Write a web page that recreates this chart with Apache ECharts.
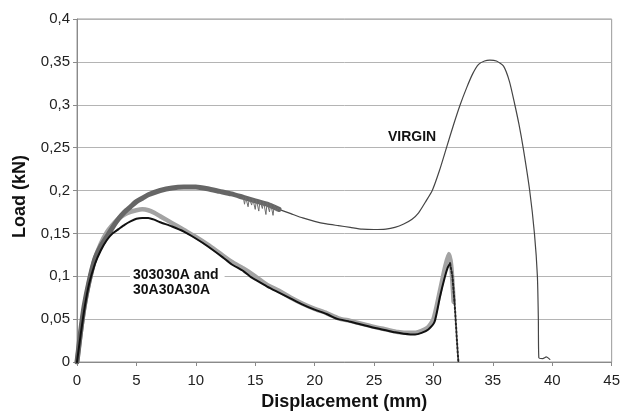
<!DOCTYPE html>
<html>
<head>
<meta charset="utf-8">
<script src="https://cdn.jsdelivr.net/npm/echarts@6/dist/echarts.min.js"></script>
<style>html,body{margin:0;padding:0;background:#fff}#c{width:623px;height:416px}</style>
</head>
<body>
<div id="c"></div>
<script>
// Displacement (mm) / Load (kN) pairs
var xTicks = [0, 5, 10, 15, 20, 25, 30, 35, 40, 45];
var yTicks = [0, 0.05, 0.1, 0.15, 0.2, 0.25, 0.3, 0.35, 0.4];

// VIRGIN: noisy early band (0-17 mm)
var virginBand = [
  [0,0],[0.3,0.035],[0.6,0.065],[1,0.093],[1.5,0.12],[2,0.135],[2.5,0.146],[3,0.157],
  [3.5,0.167],[4,0.175],[4.5,0.181],[5,0.187],[5.5,0.191],[6,0.195],[7,0.2],[8,0.203],
  [9,0.204],[10,0.204],[11,0.202],[12,0.199],[13,0.196],[14,0.192],[15,0.188],
  [16,0.184],[17,0.178]
];
// VIRGIN: thin spikes in the 14-17 mm region
var virginSpikes = [
  [14.0,0.192],[14.1,0.184],[14.2,0.192],[14.4,0.181],[14.5,0.191],[14.7,0.183],
  [14.8,0.19],[15.0,0.178],[15.1,0.189],[15.3,0.176],[15.4,0.188],[15.6,0.179],
  [15.7,0.187],[15.9,0.172],[16.0,0.186],[16.2,0.175],[16.3,0.185],[16.5,0.171],
  [16.6,0.183],[16.8,0.176],[16.9,0.18],[17.1,0.177]
];
// VIRGIN: smooth part (17 mm to failure)
var virginLine = [
  [17,0.178],[18,0.173],[19,0.168],[20,0.164],[21,0.161],[22,0.159],[23,0.157],
  [24,0.155],[25,0.1545],[26,0.155],[26.75,0.157],[27.5,0.161],[28.2,0.1665],
  [28.75,0.174],[29.3,0.186],[29.9,0.2],[30.5,0.223],[31.1,0.25],[31.7,0.277],
  [32.25,0.3],[32.8,0.32],[33.3,0.336],[33.8,0.347],[34.3,0.351],[34.75,0.352],
  [35.3,0.351],[35.9,0.345],[36.4,0.327],[36.85,0.3],[37.2,0.277],[37.55,0.25],
  [38.1,0.2],[38.5,0.15],[38.75,0.1],[38.83,0.05],[38.87,0.005],[39.2,0.004],
  [39.5,0.006],[39.8,0.003]
];
// 303030A (light grey, noisy)
var s303030A = [
  [0,0],[0.3,0.033],[0.6,0.062],[1,0.092],[1.5,0.12],[2,0.138],[2.5,0.151],[3,0.16],
  [3.5,0.167],[4,0.172],[4.5,0.175],[5,0.177],[5.5,0.178],[6,0.177],[6.5,0.174],
  [7,0.17],[7.5,0.166],[8,0.162],[9,0.154],[10,0.146],[11,0.137],[12,0.127],
  [13,0.117],[14,0.109],[15,0.1],[16,0.09],[17,0.083],[18,0.075],[19,0.068],
  [20,0.062],[21,0.057],[22,0.051],[23,0.048],[24,0.0445],[25,0.041],[26,0.038],
  [27,0.035],[28,0.034],[28.5,0.034],[29.5,0.04],[30,0.05],[30.5,0.08],[31,0.112],
  [31.3,0.126],[31.5,0.112],[31.7,0.07]
];
// 30A30A30A (black)
var s30A30A30A = [
  [0,0],[0.3,0.031],[0.6,0.06],[1,0.09],[1.5,0.114],[2,0.13],[2.5,0.142],[3,0.15],
  [3.5,0.155],[4,0.16],[4.5,0.164],[5,0.167],[5.5,0.168],[6,0.168],[6.5,0.166],
  [7,0.163],[8,0.158],[9,0.152],[10,0.144],[11,0.135],[12.27,0.122],
  [13,0.114],[14,0.106],[14.64,0.099],[15,0.096],[16,0.088],[17,0.081],[18,0.074],
  [19,0.067],[20,0.061],[21,0.056],[21.76,0.051],[22,0.05],[23,0.047],[24,0.0435],
  [25,0.04],[26,0.037],[26.77,0.0346],[27.5,0.033],[28.45,0.032],[29,0.034],
  [29.57,0.038],[30.1,0.047],[30.55,0.076],[30.96,0.099],[31.2,0.11],[31.4,0.115]
];
// final dotted drop
var s30A30A30ADrop = [[31.4,0.115],[31.6,0.1],[31.8,0.065],[32.0,0.02],[32.1,0.0]];

var FONT = 'Liberation Sans, Arial, sans-serif';
var chart = echarts.init(document.getElementById('c'), null, {renderer: 'canvas'});
function line(name, data, color, width, type, z, smooth) {
  return {
    name: name, type: 'line', data: data, showSymbol: false, symbol: 'none',
    smooth: smooth === undefined ? 0.2 : smooth, z: z, animation: false,
    lineStyle: {color: color, width: width, type: type || 'solid', join: 'round', cap: 'round'}
  };
}
chart.setOption({
  animation: false,
  backgroundColor: '#fff',
  grid: {left: 77, right: 9, top: 19, bottom: 50, show: true, borderColor: '#9a9a9a', borderWidth: 1},
  xAxis: {
    type: 'value', min: 0, max: 45, interval: 5,
    name: 'Displacement (mm)', nameLocation: 'middle', nameGap: 31,
    nameTextStyle: {fontFamily: FONT, fontSize: 18, fontWeight: 'bold', color: '#111'},
    axisLine: {show: true, lineStyle: {color: '#8a8a8a', width: 1}},
    axisTick: {show: true, length: 4, lineStyle: {color: '#8a8a8a'}},
    axisLabel: {fontFamily: FONT, fontSize: 15, color: '#222', margin: 11,
      formatter: function (v) { return xTicks.indexOf(v) >= 0 ? String(v) : ''; }},
    splitLine: {show: false}
  },
  yAxis: {
    type: 'value', min: 0, max: 0.4, interval: 0.05,
    name: 'Load (kN)', nameLocation: 'middle', nameGap: 48, nameRotate: 90,
    nameTextStyle: {fontFamily: FONT, fontSize: 18, fontWeight: 'bold', color: '#111', padding: [0, 12, 0, 0]},
    axisLine: {show: true, lineStyle: {color: '#8a8a8a', width: 1}},
    axisTick: {show: true, length: 4, lineStyle: {color: '#8a8a8a'}},
    axisLabel: {fontFamily: FONT, fontSize: 15, color: '#222', margin: 7,
      formatter: function (v) {
        var r = Math.round(v * 100) / 100;
        return yTicks.indexOf(r) >= 0 ? String(r).replace('.', ',') : '';
      }},
    splitLine: {show: true, lineStyle: {color: '#b4b4b4', width: 1}}
  },
  series: [
    line('303030A', s303030A, '#a3a3a3', 4.5, 'solid', 2),
    line('VIRGIN', virginLine, '#454545', 1.2, 'solid', 3),
    line('VIRGIN (band)', virginBand, '#666666', 5, 'solid', 4),
    line('VIRGIN (noise)', virginSpikes, '#6e6e6e', 1, 'solid', 4, false),
    line('30A30A30A', s30A30A30A, '#111111', 2, 'solid', 5),
    line('30A30A30A (drop)', s30A30A30ADrop, '#222222', 2, 'dotted', 5, false)
  ],
  graphic: [
    {type: 'text', left: 388, top: 130, z: 100,
      style: {text: 'VIRGIN', font: 'bold 14px ' + FONT, fill: '#111'}},
    {type: 'text', left: 130, top: 268, z: 100,
      style: {text: '303030A and\n30A30A30A', font: 'bold 14px ' + FONT, fill: '#111',
        lineHeight: 15, backgroundColor: '#fff', padding: [0, 6, 0, 3]}}
  ]
});
</script>
</body>
</html>
